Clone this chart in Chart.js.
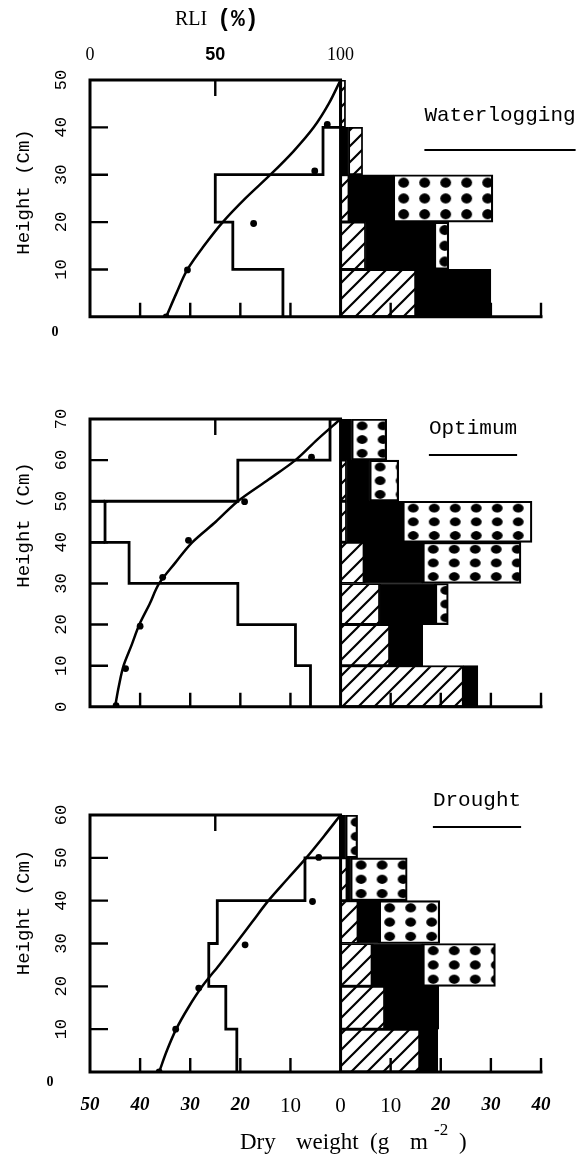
<!DOCTYPE html>
<html lang="en">
<head>
<meta charset="utf-8">
<title>RLI y peso seco por estratos</title>
<script src="https://cdn.jsdelivr.net/npm/chart.js@4.4.1/dist/chart.umd.min.js"></script>
<style>
  html, body { margin: 0; padding: 0; background: #fff; }
  body { width: 578px; height: 1160px; position: relative; overflow: hidden; }
  canvas { position: absolute; left: 0; }
  #graficaAgua   { top: 0; }
  #graficaOptimo { top: 345px; }
  #graficaSequia { top: 735px; }
</style>
</head>
<body>
<canvas id="graficaAgua" width="578" height="345"></canvas>
<canvas id="graficaOptimo" width="578" height="390"></canvas>
<canvas id="graficaSequia" width="578" height="425"></canvas>
<script>
// 📊 PERFIL VERTICAL — RLI (%) y peso seco por estrato

// ─── Waterlogging ─────────────────────────────────────────────────────────────
const estratosW = [5, 15, 25, 35, 45];                 // centro del estrato (cm)
const perfilW   = [11.5, 21.5, 25, 3.5, 0];            // contorno izquierdo (g m-2)
const rayasW    = [[0, 15], [0, 5], [0, 1.7], [1.6, 4.4], [0, 1]];
const negroW    = [[15, 30], [5, 18.7], [1.7, 10.5], [0, 1.6], null];
const puntosW   = [null, [18.7, 21.6], [10.5, 30.4], null, null];
const alturaCurvaW = [0, 5, 10, 15, 20, 25, 30, 35, 40, 45, 50];
const rliCurvaW    = [30.4, 34.5, 38.9, 45.5, 53, 62, 72, 81.3, 89.3, 95.3, 100];
const alturaObsW   = [0, 9.9, 19.7, 30.8, 40.6];
const rliObsW      = [30.4, 38.9, 65.3, 89.7, 94.7];

// ─── Optimum ──────────────────────────────────────────────────────────────────
const estratosO = [5, 15, 25, 35, 45, 55, 65];
const perfilO   = [6, 9, 20.5, 42.2, 47, 20.5, 2.1];
const salienteO = [-50, -47];                          // tramo del estrato 40-50 hasta el marco
const rayasO    = [[0, 24.5], [0, 9.8], [0, 7.8], [0, 4.7], [0, 1.2], [0, 1.2], null];
const negroO    = [[24.5, 27.4], [9.8, 16.4], [7.8, 18.9], [4.7, 16.4], [1.2, 12.4], [1.2, 5.8], [0, 2.2]];
const puntosO   = [null, null, [18.9, 21.5], [16.4, 36], [12.4, 38.2], [5.8, 11.6], [2.2, 9.2]];
const alturaCurvaO = [0, 5, 10, 15, 20, 25, 30, 35, 40, 45, 50, 55, 60, 65, 70];
const rliCurvaO    = [10, 11.5, 13.4, 16.6, 19.7, 23.8, 27.6, 34, 40.8, 50.2, 59, 70.6, 82, 90.7, 100];
const alturaObsO   = [0.3, 9.3, 19.6, 31.5, 40.5, 49.9, 60.7];
const rliObsO      = [10.4, 14.2, 20, 29, 39.3, 61.7, 88.4];

// ─── Drought ──────────────────────────────────────────────────────────────────
const estratosD = [5, 15, 25, 35, 45, 55];
const perfilD   = [20.7, 22.9, 26.3, 24.6, 7.1, 0];
const rayasD    = [[0, 15.8], [0, 8.8], [0, 6.3], [0, 3.5], [0, 1.3], null];
const negroD    = [[15.8, 19.4], [8.8, 19.6], [6.3, 16.4], [3.5, 7.7], [1.3, 2.0], [0, 1]];
const puntosD   = [null, null, [16.4, 30.9], [7.7, 19.8], [2.0, 13.3], [1, 3.4]];
const alturaCurvaD = [0, 5, 10, 15, 20, 25, 30, 35, 40, 45, 50, 55, 60];
const rliCurvaD    = [27.6, 30.7, 34.4, 39.2, 44.8, 51.6, 58.2, 64.7, 71.2, 78.7, 86.3, 93.3, 100];
const alturaObsD   = [0, 10, 19.6, 29.7, 39.8, 50.1];
const rliObsD      = [27.6, 34.2, 43.4, 61.9, 88.8, 91.3];

// Ejes comunes
const pesoMin = -50, pesoMax = 40;      // peso seco: izquierda negativa
const rliMax = 180;                     // RLI 0-100 ocupa la mitad izquierda

// ─── Texturas ─────────────────────────────────────────────────────────────────
function crearTesela(w, h, dibujar) {
  const c = document.createElement('canvas');
  c.width = w; c.height = h;
  const g = c.getContext('2d');
  g.fillStyle = '#fff';
  g.fillRect(0, 0, w, h);
  dibujar(g);
  return c;
}

const teselaRayas = crearTesela(16, 16, g => {
  g.strokeStyle = '#000';
  g.lineWidth = 2.2;
  g.beginPath();
  g.moveTo(-2, 18); g.lineTo(18, -2);
  g.moveTo(-2, 2);  g.lineTo(2, -2);
  g.moveTo(14, 18); g.lineTo(18, 14);
  g.stroke();
});

const teselaPuntos = crearTesela(21, 17, g => {
  g.fillStyle = '#000';
  g.beginPath();
  g.arc(10.5, 8.5, 5.4, 0, Math.PI * 2);
  g.fill();
});

function patronRayas(c) {
  return c.chart.ctx.createPattern(teselaRayas, 'repeat');
}

// Puntos alineados con el borde de cada barra: 3 filas por estrato
function patronPuntos(c) {
  const chart = c.chart;
  const dato = c.raw;
  if (!dato || !chart.chartArea) return '#fff';
  const xs = chart.scales.x, ys = chart.scales.y;
  const x0 = xs.getPixelForValue(dato.x[0]);
  const y0 = ys.getPixelForValue(dato.y + 5);
  const y1 = ys.getPixelForValue(dato.y - 5);
  const pat = chart.ctx.createPattern(teselaPuntos, 'repeat');
  pat.setTransform(new DOMMatrix([1, 0, 0, (y1 - y0) / 3 / 17, x0, y0]));
  return pat;
}

// ─── Construcción de datos ────────────────────────────────────────────────────
// Contorno en escalera, de arriba hacia abajo
function perfilEscalonado(estratos, anchos) {
  const tope = estratos[estratos.length - 1] + 5;
  const pts = [{ x: 0, y: tope }];
  for (let i = estratos.length - 1; i >= 0; i--) {
    pts.push({ x: -anchos[i], y: estratos[i] + 5 });
  }
  pts.push({ x: -anchos[0], y: 0 });
  return pts;
}

function tramos(estratos, rangos) {
  return rangos.map((r, i) => r ? { x: r, y: estratos[i] } : null).filter(Boolean);
}

function barra(estratos, rangos, fondo, borde) {
  return {
    type: 'bar',
    indexAxis: 'y',
    data: tramos(estratos, rangos),
    backgroundColor: fondo,
    borderColor: '#000',
    borderWidth: borde,
    borderSkipped: false,
    grouped: false,
    barPercentage: 1,
    categoryPercentage: 1
  };
}

function segmento(desde, hasta, altura) {
  return {
    type: 'line',
    data: [{ x: desde, y: altura }, { x: hasta, y: altura }],
    borderColor: '#000',
    borderWidth: 2.8,
    pointRadius: 0,
    fill: false
  };
}

// ─── Fuentes de las marcas ────────────────────────────────────────────────────
const SERIF = '"Liberation Serif", "DejaVu Serif", serif';
const MONO  = '"Liberation Mono", "DejaVu Sans Mono", monospace';

function fuenteInferior(v) {
  if (Math.abs(v) <= 10) return { family: SERIF, size: 21, weight: 'normal', style: 'normal' };
  return { family: SERIF, size: 19, weight: 'bold', style: 'italic' };
}

function fuenteRLI(v) {
  if (v === 50) return { family: '"Liberation Sans", Arial, sans-serif', size: 18, weight: 'bold' };
  return { family: SERIF, size: 18, weight: 'normal' };
}

// ─── Marco, marcas y textos ───────────────────────────────────────────────────
const marcoPlugin = {
  id: 'marco',
  afterDatasetsDraw(chart, args, opts) {
    const { ctx, scales: { x, y, x2 } } = chart;
    const xIzq = x.getPixelForValue(pesoMin);
    const xDer = x.getPixelForValue(pesoMax);
    const xCero = x.getPixelForValue(0);
    const yBase = y.getPixelForValue(0);
    const yTope = y.getPixelForValue(y.max);

    ctx.save();
    ctx.strokeStyle = '#000';
    ctx.fillStyle = '#000';

    ctx.lineWidth = 3;
    ctx.lineCap = 'square';
    ctx.beginPath();
    ctx.moveTo(xCero, yTope);
    ctx.lineTo(xIzq, yTope);
    ctx.lineTo(xIzq, yBase);
    ctx.lineTo(xDer, yBase);
    ctx.moveTo(xCero, yTope);
    ctx.lineTo(xCero, yBase);
    ctx.stroke();

    // marcas hacia dentro
    ctx.lineWidth = 2.4;
    ctx.lineCap = 'butt';
    ctx.beginPath();
    for (let v = pesoMin + 10; v <= pesoMax; v += 10) {
      if (v === 0) continue;
      const px = x.getPixelForValue(v);
      ctx.moveTo(px, yBase);
      ctx.lineTo(px, yBase - 14);
    }
    for (let h = 10; h < y.max; h += 10) {
      const py = y.getPixelForValue(h);
      ctx.moveTo(xIzq, py);
      ctx.lineTo(xIzq + 18, py);
    }
    const pxMitad = x2.getPixelForValue(50);
    ctx.moveTo(pxMitad, yTope);
    ctx.lineTo(pxMitad, yTope + 16);
    ctx.stroke();

    // título del eje Y
    ctx.save();
    ctx.translate(opts.tituloY.x, opts.tituloY.y);
    ctx.rotate(-Math.PI / 2);
    ctx.font = '19px ' + MONO;
    ctx.textAlign = 'center';
    ctx.textBaseline = 'middle';
    ctx.fillText('Height (Cm)', 0, 0);
    ctx.restore();

    // tratamiento subrayado
    const ley = opts.leyenda;
    ctx.font = '21px ' + MONO;
    ctx.textAlign = 'center';
    ctx.textBaseline = 'middle';
    ctx.fillText(ley.texto, ley.x, ley.y);
    const ancho = ctx.measureText(ley.texto).width;
    ctx.lineWidth = 2;
    ctx.beginPath();
    ctx.moveTo(ley.x - ancho / 2, ley.linea);
    ctx.lineTo(ley.x + ancho / 2, ley.linea);
    ctx.stroke();

    if (opts.cero) {
      ctx.font = 'bold 14px ' + SERIF;
      ctx.fillText('0', opts.cero.x, opts.cero.y);
    }

    if (opts.rli) {
      ctx.textAlign = 'left';
      ctx.font = '20px ' + SERIF;
      ctx.fillText('RLI', opts.rli.x, opts.rli.y);
      const w = ctx.measureText('RLI').width;
      ctx.font = 'bold 23px ' + MONO;
      ctx.fillText('(%)', opts.rli.x + w + 10, opts.rli.y);
    }

    if (opts.pesoSeco) {
      // piezas colocadas como en el original, con espacios amplios
      const p = opts.pesoSeco;
      ctx.textAlign = 'left';
      ctx.font = '23px ' + SERIF;
      ctx.fillText('Dry', p.x, p.y);
      ctx.fillText('weight', p.x + 56, p.y);
      ctx.fillText('(g', p.x + 130, p.y);
      ctx.fillText('m', p.x + 170, p.y);
      ctx.font = '17px ' + SERIF;
      ctx.fillText('-2', p.x + 194, p.y - 12);
      ctx.font = '23px ' + SERIF;
      ctx.fillText(')', p.x + 219, p.y);
    }
    ctx.restore();
  }
};
Chart.register(marcoPlugin);

// ─── Crear panel ──────────────────────────────────────────────────────────────
function crearPanel(id, p) {
  const tope = p.estratos[p.estratos.length - 1] + 5;
  const m = p.marco;   // {izq, der, arriba, abajo}: espacio fuera del área de trazado

  const datasets = [
    {
      type: 'line',
      xAxisID: 'x2',
      data: p.alturaCurva.map((h, i) => ({ x: p.rliCurva[i], y: h })),
      cubicInterpolationMode: 'monotone',
      borderColor: '#000',
      borderWidth: 2.5,
      pointRadius: 0,
      fill: false
    },
    {
      type: 'line',
      xAxisID: 'x2',
      data: p.alturaObs.map((h, i) => ({ x: p.rliObs[i], y: h })),
      showLine: false,
      pointRadius: 3.4,
      pointBackgroundColor: '#000',
      pointBorderWidth: 0
    },
    {
      type: 'line',
      data: perfilEscalonado(p.estratos, p.perfil),
      stepped: 'after',
      borderColor: '#000',
      borderWidth: 2.8,
      pointRadius: 0,
      fill: false
    },
    barra(p.estratos, p.negro, '#000', 1),
    barra(p.estratos, p.rayas, patronRayas, 1.8),
    barra(p.estratos, p.puntos, patronPuntos, 2.2)
  ];

  if (p.saliente) {
    const capa = p.saliente.estrato;
    datasets.push(segmento(p.saliente.tramo[0], p.saliente.tramo[1], capa + 5));
    datasets.push(segmento(p.saliente.tramo[0], p.saliente.tramo[1], capa - 5));
  }

  return new Chart(document.getElementById(id), {
    type: 'bar',
    data: { datasets },
    options: {
      indexAxis: 'y',
      responsive: false,
      animation: false,
      events: [],
      devicePixelRatio: 1,
      layout: { padding: { left: 0, right: m.der, top: p.mostrarRLI ? 0 : m.arriba, bottom: 0 } },
      plugins: {
        legend: { display: false },
        tooltip: { enabled: false },
        marco: p.textos
      },
      scales: {
        x: {
          type: 'linear',
          min: pesoMin,
          max: pesoMax,
          offset: false,
          grid: { display: false, drawTicks: false, offset: false },
          border: { display: false },
          afterFit: s => { s.height = m.abajo; },
          ticks: {
            display: p.mostrarPeso,
            stepSize: 10,
            autoSkip: false,
            maxRotation: 0,
            padding: 21.5,
            color: '#000',
            callback: v => Math.abs(v),
            font: c => fuenteInferior(c.tick ? c.tick.value : 0)
          }
        },
        x2: {
          type: 'linear',
          position: 'top',
          min: 0,
          max: rliMax,
          display: p.mostrarRLI,
          offset: false,
          grid: { display: false, drawTicks: false },
          border: { display: false },
          afterFit: s => { s.height = m.arriba; },
          ticks: {
            stepSize: 50,
            autoSkip: false,
            maxRotation: 0,
            padding: 14,
            color: '#000',
            callback: v => (v <= 100 ? v : null),
            font: c => fuenteRLI(c.tick ? c.tick.value : 0)
          }
        },
        y: {
          type: 'linear',
          min: 0,
          max: tope,
          offset: false,
          grid: { display: false, drawTicks: false },
          border: { display: false },
          afterFit: s => { s.width = m.izq; },
          ticks: {
            stepSize: 10,
            minRotation: 90,
            maxRotation: 90,
            crossAlign: 'center',
            padding: 18,
            color: '#000',
            font: { family: MONO, size: 17 },
            callback: v => (v === 0 && !p.ceroRotado) ? '' : v
          }
        }
      }
    }
  });
}

// ─── Init ─────────────────────────────────────────────────────────────────────
crearPanel('graficaAgua', {
  estratos: estratosW, perfil: perfilW, rayas: rayasW, negro: negroW, puntos: puntosW,
  alturaCurva: alturaCurvaW, rliCurva: rliCurvaW, alturaObs: alturaObsW, rliObs: rliObsW,
  marco: { izq: 90, der: 37, arriba: 80, abajo: 13 },
  mostrarRLI: true, mostrarPeso: false, ceroRotado: false,
  textos: {
    tituloY: { x: 24, y: 192 },
    leyenda: { texto: 'Waterlogging', x: 500, y: 115, linea: 150 },
    cero: { x: 55, y: 332 },
    rli: { x: 175, y: 20 }
  }
});

crearPanel('graficaOptimo', {
  estratos: estratosO, perfil: perfilO, rayas: rayasO, negro: negroO, puntos: puntosO,
  alturaCurva: alturaCurvaO, rliCurva: rliCurvaO, alturaObs: alturaObsO, rliObs: rliObsO,
  saliente: { estrato: 45, tramo: salienteO },
  marco: { izq: 90, der: 37, arriba: 37, abajo: 12.5 },
  mostrarRLI: false, mostrarPeso: false, ceroRotado: true,
  textos: {
    tituloY: { x: 24, y: 180 },
    leyenda: { texto: 'Optimum', x: 473, y: 83, linea: 110 }
  }
});

crearPanel('graficaSequia', {
  estratos: estratosD, perfil: perfilD, rayas: rayasD, negro: negroD, puntos: puntosD,
  alturaCurva: alturaCurvaD, rliCurva: rliCurvaD, alturaObs: alturaObsD, rliObs: rliObsD,
  marco: { izq: 90, der: 37, arriba: 40, abajo: 88 },
  mostrarRLI: false, mostrarPeso: true, ceroRotado: false,
  textos: {
    tituloY: { x: 24, y: 177.5 },
    leyenda: { texto: 'Drought', x: 477, y: 65, linea: 92 },
    cero: { x: 50, y: 347 },
    pesoSeco: { x: 240, y: 408 }
  }
});
</script>
</body>
</html>
